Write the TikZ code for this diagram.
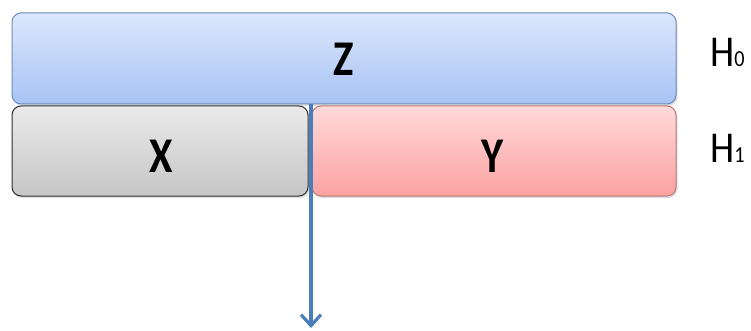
\documentclass[tikz,border=0pt]{standalone}
\usepackage{fontspec}
\setmainfont{Carlito}
\usetikzlibrary{arrows.meta,shadows}
\definecolor{zTop}{HTML}{DCE7FC}
\definecolor{zBot}{HTML}{A8C3F4}
\definecolor{zLine}{HTML}{6F8CB8}
\definecolor{xTop}{HTML}{EAEAEA}
\definecolor{xBot}{HTML}{C6C6C6}
\definecolor{xLine}{HTML}{2E2E2E}
\definecolor{yTop}{HTML}{FFD9D9}
\definecolor{yBot}{HTML}{FCA2A2}
\definecolor{yLine}{HTML}{B87878}
\definecolor{arrowBlue}{HTML}{4A7EBB}
\tikzset{
  layer/.style={rounded corners=9pt, line width=1pt,
    drop shadow={shadow xshift=1.5pt, shadow yshift=-2pt, opacity=0.25}},
  lab/.style={font=\fontsize{50}{50}\selectfont\bfseries, anchor=base,
    inner sep=0pt, xscale=0.85},
  hlab/.style={font=\fontsize{44}{44}\selectfont, anchor=base west,
    inner sep=0pt, xscale=0.88},
}
\newcommand{\hsub}[1]{{\fontsize{23}{23}\selectfont #1}}
\begin{document}
\begin{tikzpicture}[x=1pt,y=-1pt]
  \useasboundingbox (0,0) rectangle (751,331);
  % layer H0
  \draw[layer, draw=zLine, top color=zTop, bottom color=zBot]
    (12,13) rectangle (676,104);
  % layer H1
  \draw[layer, draw=xLine, top color=xTop, bottom color=xBot]
    (12,106) rectangle (308,196);
  \draw[layer, draw=yLine, top color=yTop, bottom color=yBot]
    (312,106) rectangle (676,196);
  % labels
  \node[lab] (z) at (344,76) {Z};
  \node[lab] (x) at (161,172) {X};
  \node[lab] (y) at (493,172) {Y};
  \node[hlab] (h0) at (710,67) {H\hsub{0}};
  \node[hlab] (h1) at (710,162) {H\hsub{1}};
  % split point and output
  \coordinate (split) at (311,104);
  \coordinate (out) at (311,328);
  \draw[arrowBlue, line width=3.2pt,
    -{Straight Barb[length=11pt, width=20pt, line width=3.2pt]}]
    (split) -- (out);
\end{tikzpicture}
\end{document}
